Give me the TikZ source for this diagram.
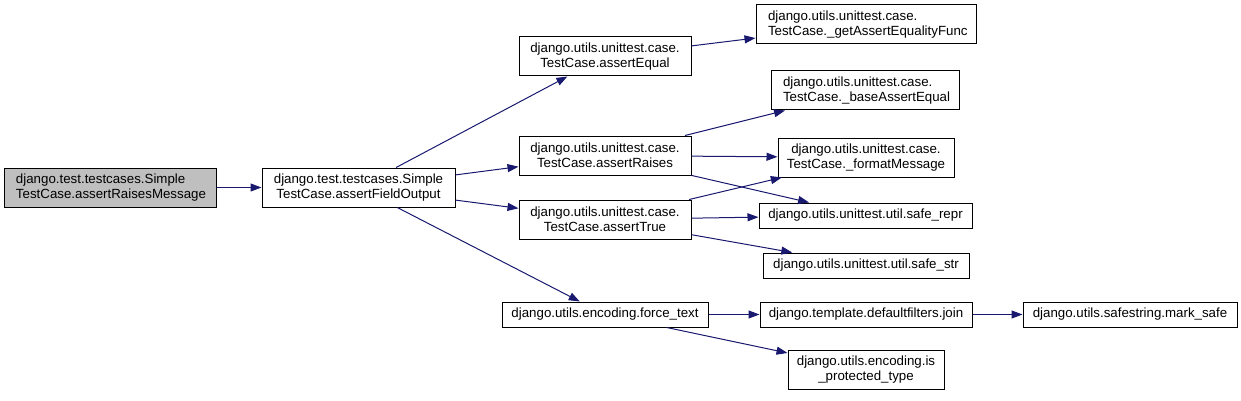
\documentclass[tikz,border=0pt]{standalone}
\usepackage{fontspec}
\setmainfont{Liberation Sans}
\usetikzlibrary{arrows.meta}
\definecolor{edgeblue}{HTML}{191970}
\definecolor{nodegray}{HTML}{BFBFBF}
\begin{document}
\begin{tikzpicture}[x=1pt,y=-1pt,
  fnode/.style={draw=black,line width=1pt,fill=white,inner sep=0pt,
    font=\fontsize{13.3}{15}\selectfont,minimum height=39pt},
  twoline/.style={fnode,minimum height=39pt},
  oneline/.style={fnode,minimum height=25pt},
  edge/.style={draw=edgeblue,line width=1pt,-{Triangle[length=11pt,width=8pt]}}
]
\useasboundingbox (0,0) rectangle (1241,401);
\node[twoline,fill=nodegray,minimum width=212pt,text width=188pt,align=left] (n1) at (110,187.5) {django.test.testcases.Simple\\TestCase.assertRaisesMessage};
\node[twoline,minimum width=193pt,text width=180pt,align=center] (n2) at (358.5,187.5) {django.test.testcases.Simple\\TestCase.assertFieldOutput};
\node[twoline,minimum width=172pt,text width=160pt,align=center] (n3) at (605,56.5) {django.utils.unittest.case.\\TestCase.assertEqual};
\node[twoline,minimum width=220pt,text width=196pt,align=left] (n4) at (866,24.5) {django.utils.unittest.case.\\TestCase.\_getAssertEqualityFunc};
\node[twoline,minimum width=188pt,text width=164pt,align=left] (n5) at (865,90.5) {django.utils.unittest.case.\\TestCase.\_baseAssertEqual};
\node[twoline,minimum width=172pt,text width=160pt,align=center] (n6) at (605,155.5) {django.utils.unittest.case.\\TestCase.assertRaises};
\node[twoline,minimum width=176pt,text width=164pt,align=center] (n7) at (866,157.5) {django.utils.unittest.case.\\TestCase.\_formatMessage};
\node[twoline,minimum width=172pt,text width=160pt,align=center] (n8) at (605,219.5) {django.utils.unittest.case.\\TestCase.assertTrue};
\node[oneline,minimum width=213pt] (n9) at (865.5,215.5) {django.utils.unittest.util.safe\_repr};
\node[oneline,minimum width=206pt] (n10) at (866,265.5) {django.utils.unittest.util.safe\_str};
\node[oneline,minimum width=206pt] (n11) at (605,314.5) {django.utils.encoding.force\_text};
\node[oneline,minimum width=212pt] (n12) at (866,314.5) {django.template.defaultfilters.join};
\node[oneline,minimum width=214pt] (n13) at (1130,314.5) {django.utils.safestring.mark\_safe};
\node[twoline,minimum width=156pt,text width=144pt,align=center] (n14) at (866,369.5) {django.utils.encoding.is\\\_protected\_type};
\draw[edge] (n1) -- (n2);
\draw[edge] (n2) -- (n3);
\draw[edge] (n2) -- (n6);
\draw[edge] (n2) -- (n8);
\draw[edge] (n2) -- (n11);
\draw[edge] (n3) -- (n4);
\draw[edge] (n6) -- (n5);
\draw[edge] (n6) -- (n7);
\draw[edge] (n6) -- (n9);
\draw[edge] (n8) -- (n7);
\draw[edge] (n8) -- (n9);
\draw[edge] (n8) -- (n10);
\draw[edge] (n11) -- (n12);
\draw[edge] (n11) -- (n14);
\draw[edge] (n12) -- (n13);
\end{tikzpicture}
\end{document}
